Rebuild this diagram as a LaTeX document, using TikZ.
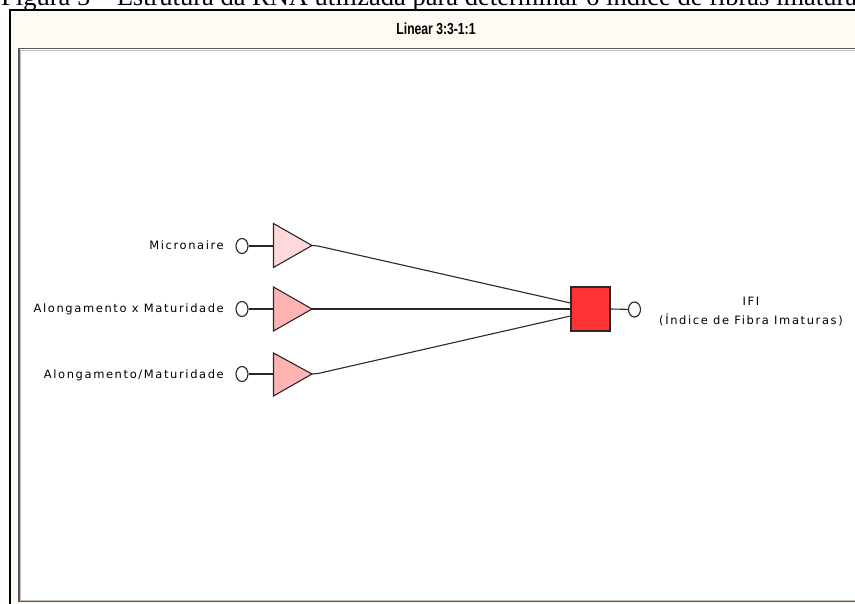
\documentclass[tikz,border=0pt]{standalone}
\usepackage{fontspec}
\usetikzlibrary{shapes.geometric}
\newfontfamily\capfont{Liberation Serif}
\newfontfamily\lblfont[LetterSpace=14]{DejaVu Sans}
\newfontfamily\ttlfont{Liberation Sans}
\definecolor{cream}{HTML}{FFFBF4}
\definecolor{tripale}{HTML}{FFD9D9}
\definecolor{tripink}{HTML}{FFB3B3}
\definecolor{boxred}{HTML}{FF3535}
\definecolor{wire}{HTML}{282828}
\tikzset{
  lbl/.style={font=\lblfont\fontsize{11.5}{19}\selectfont, inner sep=0, text=black},
  port/.style={draw=wire, line width=1.1pt, fill=white, ellipse, minimum width=12pt, minimum height=15pt, inner sep=0},
  tri/.style={draw=wire, line width=1.1pt, line join=miter},
  wirestyle/.style={draw=wire, line width=1.1pt},
  outbox/.style={draw=wire, line width=1.1pt, fill=boxred, minimum width=39pt, minimum height=44pt, inner sep=0}
}
\begin{document}
\begin{tikzpicture}[x=1pt,y=-1pt]
\useasboundingbox (0,0) rectangle (855,604);
\begin{scope}
\clip (0,0) rectangle (855,604);
\node[anchor=base west, inner sep=0, font=\capfont\fontsize{26.5}{30}\selectfont] (caption) at (1,6) {Figura 5 – Estrutura da RNA utilizada para determinar o índice de fibras imaturas};
\fill[cream] (10,10) rectangle (880,640);
\draw[line width=2pt, black] (10,650) -- (10,10.5) -- (880,10.5);
\fill[white] (19,48.5) rectangle (880,601.5);
\draw[line width=1.6pt, black!65] (880,48.5) -- (19,48.5) -- (19,601.5) -- (880,601.5);
\draw[line width=0.6pt, black!25] (880,50) -- (20.5,50) -- (20.5,600) -- (880,600);
\end{scope}
% title
\node[font=\ttlfont\bfseries\fontsize{16}{18}\selectfont, inner sep=0] (title) at (436,29) {\scalebox{0.76}[1]{Linear 3:3-1:1}};
% labels
\node[lbl, anchor=east] (l1) at (224,245) {Micronaire};
\node[lbl, anchor=east] (l2) at (224,309) {Alongamento x Maturidade};
\node[lbl, anchor=east] (l3) at (224,375) {Alongamento/Maturidade};
% input ports
\node[port] (in1) at (242,246) {};
\node[port] (in2) at (242,309) {};
\node[port] (in3) at (242,374) {};
% triangles
\draw[tri, fill=tripale] (273.5,223.5) -- (312,245.5) coordinate (t1) -- (273.5,267.5) -- cycle;
\draw[tri, fill=tripink] (273.5,287) -- (312,309) coordinate (t2) -- (273.5,331) -- cycle;
\draw[tri, fill=tripink] (273.5,353) -- (312,374) coordinate (t3) -- (273.5,396) -- cycle;
\coordinate (t1in) at (273.5,246);
\coordinate (t2in) at (273.5,309);
\coordinate (t3in) at (273.5,374);
\draw[wirestyle] (in1) -- (t1in);
\draw[wirestyle] (in2) -- (t2in);
\draw[wirestyle] (in3) -- (t3in);
% output
\node[outbox] (sq) at (590.5,309) {};
\node[port] (out) at (634.5,309.5) {};
\node[lbl, align=center] (ifi) at (751,312) {IFI\\(Índice de Fibra Imaturas)};
\draw[wirestyle] (t1) -- ++(6,0.5) -- ([yshift=6pt]sq.west);
\draw[wirestyle] (t2) -- (sq.west);
\draw[wirestyle] (t3) -- ++(6,-0.5) -- ([yshift=-7pt]sq.west);
\draw[wirestyle] (sq.east) -- (out);
\end{tikzpicture}
\end{document}
